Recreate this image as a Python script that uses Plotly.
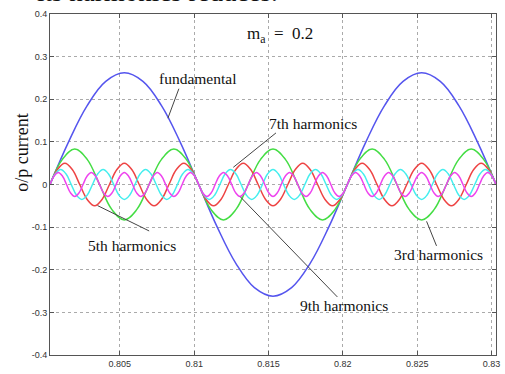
import plotly.graph_objects as go

# ---- data ----
t_start = 0.8003
fund_step = 0.00125          # 1/16 of the fundamental period
fundamental = [0, 0.100, 0.185, 0.242, 0.262, 0.242, 0.185, 0.100,
               0, -0.100, -0.185, -0.242, -0.262, -0.242, -0.185, -0.100,
               0, 0.100, 0.185, 0.242, 0.262, 0.242, 0.185, 0.100, 0]

h3_step = 0.02 / 3 / 8       # 1/8 of each harmonic period
harm3 = [0, 0.059, 0.083, 0.059, 0, -0.059, -0.083, -0.059,
         0, 0.059, 0.083, 0.059, 0, -0.059, -0.083, -0.059,
         0, 0.059, 0.083, 0.059, 0, -0.059, -0.083, -0.059,
         0, 0.059, 0.083, 0.059, 0, -0.059, -0.083, -0.059,
         0, 0.059, 0.083, 0.059, 0]

h5_step = 0.02 / 5 / 8
harm5 = [0, 0.035, 0.05, 0.035, 0, -0.035, -0.05, -0.035,
         0, 0.035, 0.05, 0.035, 0, -0.035, -0.05, -0.035,
         0, 0.035, 0.05, 0.035, 0, -0.035, -0.05, -0.035,
         0, 0.035, 0.05, 0.035, 0, -0.035, -0.05, -0.035,
         0, 0.035, 0.05, 0.035, 0, -0.035, -0.05, -0.035,
         0, 0.035, 0.05, 0.035, 0, -0.035, -0.05, -0.035,
         0, 0.035, 0.05, 0.035, 0, -0.035, -0.05, -0.035,
         0, 0.035, 0.05, 0.035, 0]

h7_step = 0.02 / 7 / 8
harm7 = [0, 0.025, 0.035, 0.025, 0, -0.025, -0.035, -0.025,
         0, 0.025, 0.035, 0.025, 0, -0.025, -0.035, -0.025,
         0, 0.025, 0.035, 0.025, 0, -0.025, -0.035, -0.025,
         0, 0.025, 0.035, 0.025, 0, -0.025, -0.035, -0.025,
         0, 0.025, 0.035, 0.025, 0, -0.025, -0.035, -0.025,
         0, 0.025, 0.035, 0.025, 0, -0.025, -0.035, -0.025,
         0, 0.025, 0.035, 0.025, 0, -0.025, -0.035, -0.025,
         0, 0.025, 0.035, 0.025, 0, -0.025, -0.035, -0.025,
         0, 0.025, 0.035, 0.025, 0, -0.025, -0.035, -0.025,
         0, 0.025, 0.035, 0.025, 0, -0.025, -0.035, -0.025,
         0, 0.025, 0.035, 0.025, 0]

h9_step = 0.02 / 9 / 8
harm9 = [0, 0.02, 0.028, 0.02, 0, -0.02, -0.028, -0.02,
         0, 0.02, 0.028, 0.02, 0, -0.02, -0.028, -0.02,
         0, 0.02, 0.028, 0.02, 0, -0.02, -0.028, -0.02,
         0, 0.02, 0.028, 0.02, 0, -0.02, -0.028, -0.02,
         0, 0.02, 0.028, 0.02, 0, -0.02, -0.028, -0.02,
         0, 0.02, 0.028, 0.02, 0, -0.02, -0.028, -0.02,
         0, 0.02, 0.028, 0.02, 0, -0.02, -0.028, -0.02,
         0, 0.02, 0.028, 0.02, 0, -0.02, -0.028, -0.02,
         0, 0.02, 0.028, 0.02, 0, -0.02, -0.028, -0.02,
         0, 0.02, 0.028, 0.02, 0, -0.02, -0.028, -0.02,
         0, 0.02, 0.028, 0.02, 0, -0.02, -0.028, -0.02,
         0, 0.02, 0.028, 0.02, 0, -0.02, -0.028, -0.02,
         0, 0.02, 0.028, 0.02, 0, -0.02, -0.028, -0.02,
         0, 0.02, 0.028, 0.02, 0]

x_ticks = [0.805, 0.81, 0.815, 0.82, 0.825, 0.83]
x_tick_labels = ["0.805", "0.81", "0.815", "0.82", "0.825", "0.83"]
y_ticks = [-0.4, -0.3, -0.2, -0.1, 0, 0.1, 0.2, 0.3, 0.4]
y_tick_labels = ["-0.4", "-0.3", "-0.2", "-0.1", "0", "0.1", "0.2", "0.3", "0.4"]

labels = ["fundamental", "7th harmonics", "5th harmonics", "9th harmonics", "3rd harmonics"]

series = [
    (fundamental, fund_step, "#5555ee"),
    (harm3, h3_step, "#44dd44"),
    (harm5, h5_step, "#ee4444"),
    (harm7, h7_step, "#44eeee"),
    (harm9, h9_step, "#ee44ee"),
]

fig = go.Figure()
for vals, step, col in series:
    fig.add_trace(go.Scatter(y=vals, x0=t_start, dx=step, mode="lines",
                             line=dict(color=col, width=1.5, shape="spline", smoothing=1.1),
                             showlegend=False, hoverinfo="skip"))

serif = "Liberation Serif, Times New Roman, serif"
label_pos = [(0.8102, 0.248), (0.818, 0.142), (0.8058, -0.144), (0.8201, -0.285), (0.8264, -0.165)]
for txt, (lx, ly) in zip(labels, label_pos):
    fig.add_annotation(x=lx, y=ly, text=txt, showarrow=False,
                       xanchor="center", yanchor="middle",
                       font=dict(family=serif, size=15.5, color="#111"))

fig.add_annotation(x=0.8158, y=0.351, text="m<sub>a</sub>  =  0.2", showarrow=False,
                   xanchor="center", yanchor="middle",
                   font=dict(family=serif, size=17, color="#111"))

leaders = [((0.80897, 0.2247), (0.80823, 0.1555)),
           ((0.8155, 0.121), (0.81263, 0.0403)),
           ((0.8035, -0.0495), (0.80697, -0.109)),
           ((0.8131, -0.0288), (0.81963, -0.2638)),
           ((0.82563, -0.0864), (0.8263, -0.144))]
for (x0, y0), (x1, y1) in leaders:
    fig.add_shape(type="line", x0=x0, y0=y0, x1=x1, y1=y1, xref="x", yref="y",
                  line=dict(color="#444", width=1))

# y axis title (placed as annotation to match offset position)
fig.add_annotation(xref="paper", yref="paper", x=-0.062, y=0.594, text="o/p current",
                   textangle=-90, showarrow=False, xanchor="center", yanchor="middle",
                   font=dict(family=serif, size=18, color="#111"))

# cut-off line of document text at top
fig.add_annotation(xref="paper", yref="paper", x=0.5156, y=1.016, xanchor="right",
                   yanchor="bottom", text="its harmonics reduces.", showarrow=False,
                   font=dict(family=serif, size=27, color="#111"))

axis_common = dict(showgrid=True, gridcolor="#aaa", griddash="dot", gridwidth=1,
                   showline=True, linecolor="#555", linewidth=1, mirror="ticks",
                   ticks="inside", ticklen=4, tickcolor="#555", zeroline=False,
                   tickfont=dict(family="Liberation Sans Narrow, Liberation Sans, Arial",
                                 size=9, color="#333"))

fig.update_xaxes(range=[0.8003, 0.8303], tickvals=x_ticks, ticktext=x_tick_labels, **axis_common)
fig.update_yaxes(range=[-0.4, 0.4], tickvals=y_ticks, ticktext=y_tick_labels, **axis_common)

fig.update_layout(width=505, height=374, margin=dict(l=50, r=5, t=14, b=13),
                  paper_bgcolor="white", plot_bgcolor="white")

fig.write_html("out.html")
